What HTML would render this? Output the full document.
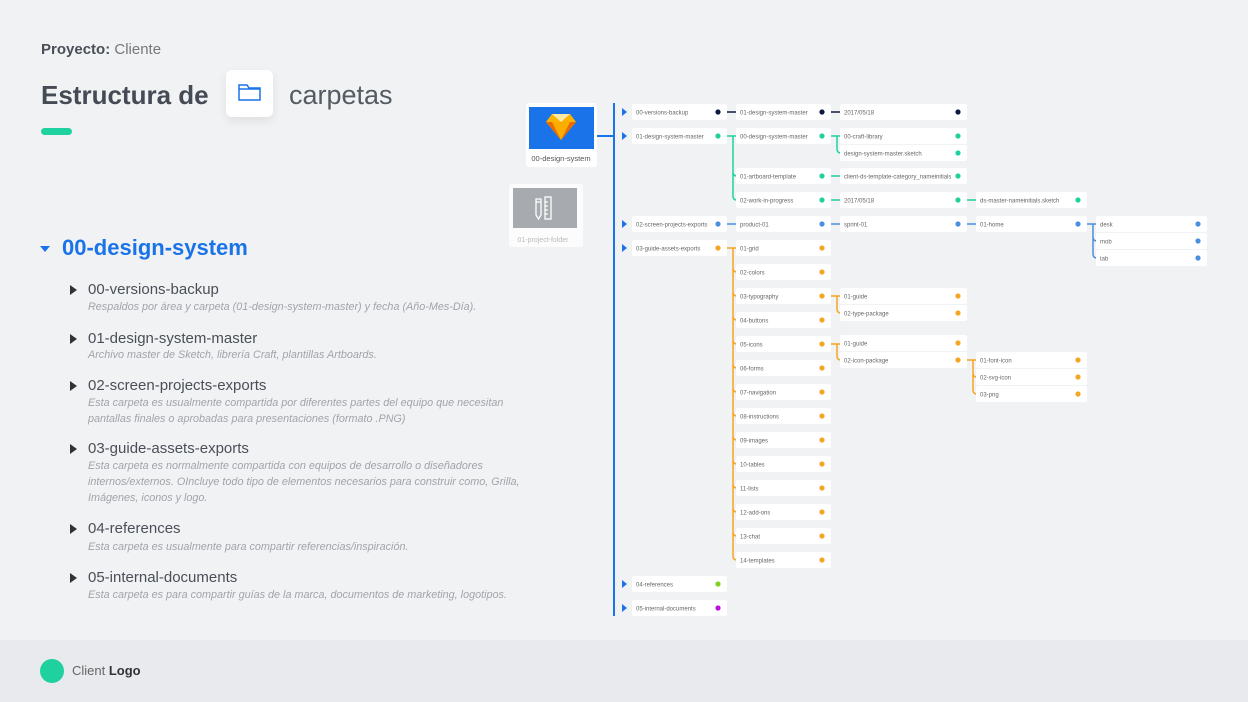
<!DOCTYPE html>
<html><head><meta charset="utf-8"><style>
body{margin:0;width:1248px;height:702px;background:#f1f2f4;font-family:"Liberation Sans",sans-serif;position:relative;overflow:hidden}
.a{position:absolute;white-space:nowrap}
.tri{position:absolute;width:0;height:0;border-top:5px solid transparent;border-bottom:5px solid transparent;border-left:7px solid #333}
.it{position:absolute;left:88px;font-size:15px;color:#4a4f57}
.ds{position:absolute;left:88px;font-size:10.8px;font-style:italic;color:#a0a4aa;line-height:16px}
</style></head><body>
<div class="a" style="left:41px;top:41px;font-size:15px;color:#4a4f57"><b>Proyecto:</b> <span style="color:#777">Cliente</span></div>
<div class="a" style="left:41px;top:80px;font-size:26px;font-weight:bold;color:#454b54">Estructura de</div>
<div class="a" style="left:226px;top:70px;width:47px;height:47px;background:#fff;border-radius:6px;box-shadow:0 4px 10px rgba(0,0,0,.08)">
<svg width="47" height="47"><path d="M13 15h8l2 3h11v12H13z M13 19h21" fill="none" stroke="#1a73e8" stroke-width="1.5"/></svg></div>
<div class="a" style="left:289px;top:80px;font-size:27px;color:#555b63;font-weight:300">carpetas</div>
<div class="a" style="left:41px;top:128px;width:31px;height:7px;border-radius:4px;background:#1fd19e"></div>
<div class="a" style="left:40px;top:246px;border-left:5px solid transparent;border-right:5px solid transparent;border-top:6px solid #1a73e8"></div>
<div class="a" style="left:62px;top:235px;font-size:22px;font-weight:bold;color:#1a73e8">00-design-system</div>

<div class="tri" style="left:70px;top:285px"></div><div class="it" style="top:281px">00-versions-backup</div>
<div class="ds" style="top:299px">Respaldos por área y carpeta (01-design-system-master) y fecha (Año-Mes-Día).</div>
<div class="tri" style="left:70px;top:334px"></div><div class="it" style="top:330px">01-design-system-master</div>
<div class="ds" style="top:347px">Archivo master de Sketch, librería Craft, plantillas Artboards.</div>
<div class="tri" style="left:70px;top:381px"></div><div class="it" style="top:377px">02-screen-projects-exports</div>
<div class="ds" style="top:395px">Esta carpeta es usualmente compartida por diferentes partes del equipo que necesitan<br>pantallas finales o aprobadas para presentaciones (formato .PNG)</div>
<div class="tri" style="left:70px;top:444px"></div><div class="it" style="top:440px">03-guide-assets-exports</div>
<div class="ds" style="top:458px">Esta carpeta es normalmente compartida con equipos de desarrollo o diseñadores<br>internos/externos. OIncluye todo tipo de elementos necesarios para construir como, Grilla,<br>Imágenes, iconos y logo.</div>
<div class="tri" style="left:70px;top:524px"></div><div class="it" style="top:520px">04-references</div>
<div class="ds" style="top:539px">Esta carpeta es usualmente para compartir referencias/inspiración.</div>
<div class="tri" style="left:70px;top:573px"></div><div class="it" style="top:569px">05-internal-documents</div>
<div class="ds" style="top:587px">Esta carpeta es para compartir guías de la marca, documentos de marketing, logotipos.</div>

<div class="a" style="left:0;top:640px;width:1248px;height:62px;background:#e8eaed"></div>
<div class="a" style="left:40px;top:659px;width:24px;height:24px;border-radius:12px;background:#1fd19e"></div>
<div class="a" style="left:72px;top:663px;font-size:13px;color:#666">Client <b style="color:#333">Logo</b></div>

<svg class="a" style="left:0;top:0" width="1248" height="640" id="s">
<rect x="509" y="184" width="74" height="63" rx="3" fill="#fff" opacity=".75"/>
<rect x="513" y="188" width="64" height="40" fill="#a7aaae"/>
<g stroke="#fff" stroke-width="1.3" fill="none"><path d="M536 199v16l2.5 4 2.5-4v-16z M536 202h5"/><rect x="545" y="197" width="6" height="22"/><path d="M545 202h3M545 206h3M545 210h3M545 214h3"/></g>
<text x="543" y="242" font-size="7" fill="#bbb" text-anchor="middle">01-project-folder</text>
<rect x="526" y="103" width="71" height="64" rx="3" fill="#fff"/>
<rect x="529" y="107" width="65" height="42" fill="#1a73e8"/>
<path d="M552 114h18l6 8-15 18-15-18z" fill="#fdb300"/><path d="M546 122h30l-15 18z" fill="#ea6c00"/><path d="M552 122h18l-9 18z" fill="#fdad00"/><path d="M552 114h18l-9 8z" fill="#fee9a5"/>
<text x="561" y="161" font-size="7.5" fill="#555" text-anchor="middle">00-design-system</text>
<path d="M597 136H614" stroke="#1a73e8" stroke-width="2"/>
<path d="M614 103V616" stroke="#1a73e8" stroke-width="2"/>
</svg>
<script>
var s=document.getElementById('s'),NS='http://www.w3.org/2000/svg';
var C={1:[632,95],2:[736,95],3:[840,127],4:[976,111],5:[1096,111]};
var K={d:'#0d1b3e',g:'#1fd19e',b:'#4a8fe0',o:'#f5a623',l:'#7ed321',p:'#bd10e0'};
function el(t,a){var e=document.createElementNS(NS,t);for(var k in a)e.setAttribute(k,a[k]);s.appendChild(e);return e}
function node(c,y,t,k){var x=C[c][0],w=C[c][1];el('rect',{x:x,y:y-8,width:w,height:16,rx:2,fill:'#fff'});var tx=el('text',{x:x+4,y:y+2.3,'font-size':6,fill:'#666'});tx.textContent=t;el('circle',{cx:x+w-9,cy:y,r:2.6,fill:K[k]});if(c==1)el('path',{d:'M622 '+(y-4)+'l5 4-5 4z',fill:'#1a73e8'})}
function con(pc,py,cc,ys,k){var px=C[pc][0]+C[pc][1]-6,cx=C[cc][0],bx=cx-3;var d='M'+px+' '+py+'H'+cx;var last=ys[ys.length-1];if(last>py){d+='M'+bx+' '+py+'V'+(last-4)+'Q'+bx+' '+last+' '+(bx+4)+' '+last;for(var i=0;i<ys.length-1;i++){var y=ys[i];if(y>py)d+='M'+bx+' '+(y-4)+'Q'+bx+' '+y+' '+(bx+4)+' '+y}}el('path',{d:d,stroke:K[k],'stroke-width':1.5,fill:'none'})}
var N=[[1,112,'00-versions-backup','d'],[2,112,'01-design-system-master','d'],[3,112,'2017/05/18','d'],
[1,136,'01-design-system-master','g'],[2,136,'00-design-system-master','g'],[3,136,'00-craft-library','g'],[3,153,'design-system-master.sketch','g'],[2,176,'01-artboard-template','g'],[3,176,'client-ds-template-category_nameinitials','g'],[2,200,'02-work-in-progress','g'],[3,200,'2017/05/18','g'],[4,200,'ds-master-nameinitials.sketch','g'],
[1,224,'02-screen-projects-exports','b'],[2,224,'product-01','b'],[3,224,'sprint-01','b'],[4,224,'01-home','b'],[5,224,'desk','b'],[5,241,'mob','b'],[5,258,'tab','b'],
[1,248,'03-guide-assets-exports','o'],[3,296,'01-guide','o'],[3,313,'02-type-package','o'],[3,343,'01-guide','o'],[3,360,'02-icon-package','o'],[4,360,'01-font-icon','o'],[4,377,'02-svg-icon','o'],[4,394,'03-png','o'],
[1,584,'04-references','l'],[1,608,'05-internal-documents','p']];
var g=['01-grid','02-colors','03-typography','04-buttons','05-icons','06-forms','07-navigation','08-instructions','09-images','10-tables','11-lists','12-add-ons','13-chat','14-templates'],gy=[];
g.forEach(function(t,i){gy.push(248+24*i);N.push([2,248+24*i,t,'o'])});
con(1,112,2,[112],'d');con(2,112,3,[112],'d');
con(1,136,2,[136,176,200],'g');con(2,136,3,[136,153],'g');con(2,176,3,[176],'g');con(2,200,3,[200],'g');con(3,200,4,[200],'g');
con(1,224,2,[224],'b');con(2,224,3,[224],'b');con(3,224,4,[224],'b');con(4,224,5,[224,241,258],'b');
con(1,248,2,gy,'o');con(2,296,3,[296,313],'o');con(2,344,3,[343,360],'o');con(3,360,4,[360,377,394],'o');
N.forEach(function(n){node(n[0],n[1],n[2],n[3])});
</script>
</body></html>
